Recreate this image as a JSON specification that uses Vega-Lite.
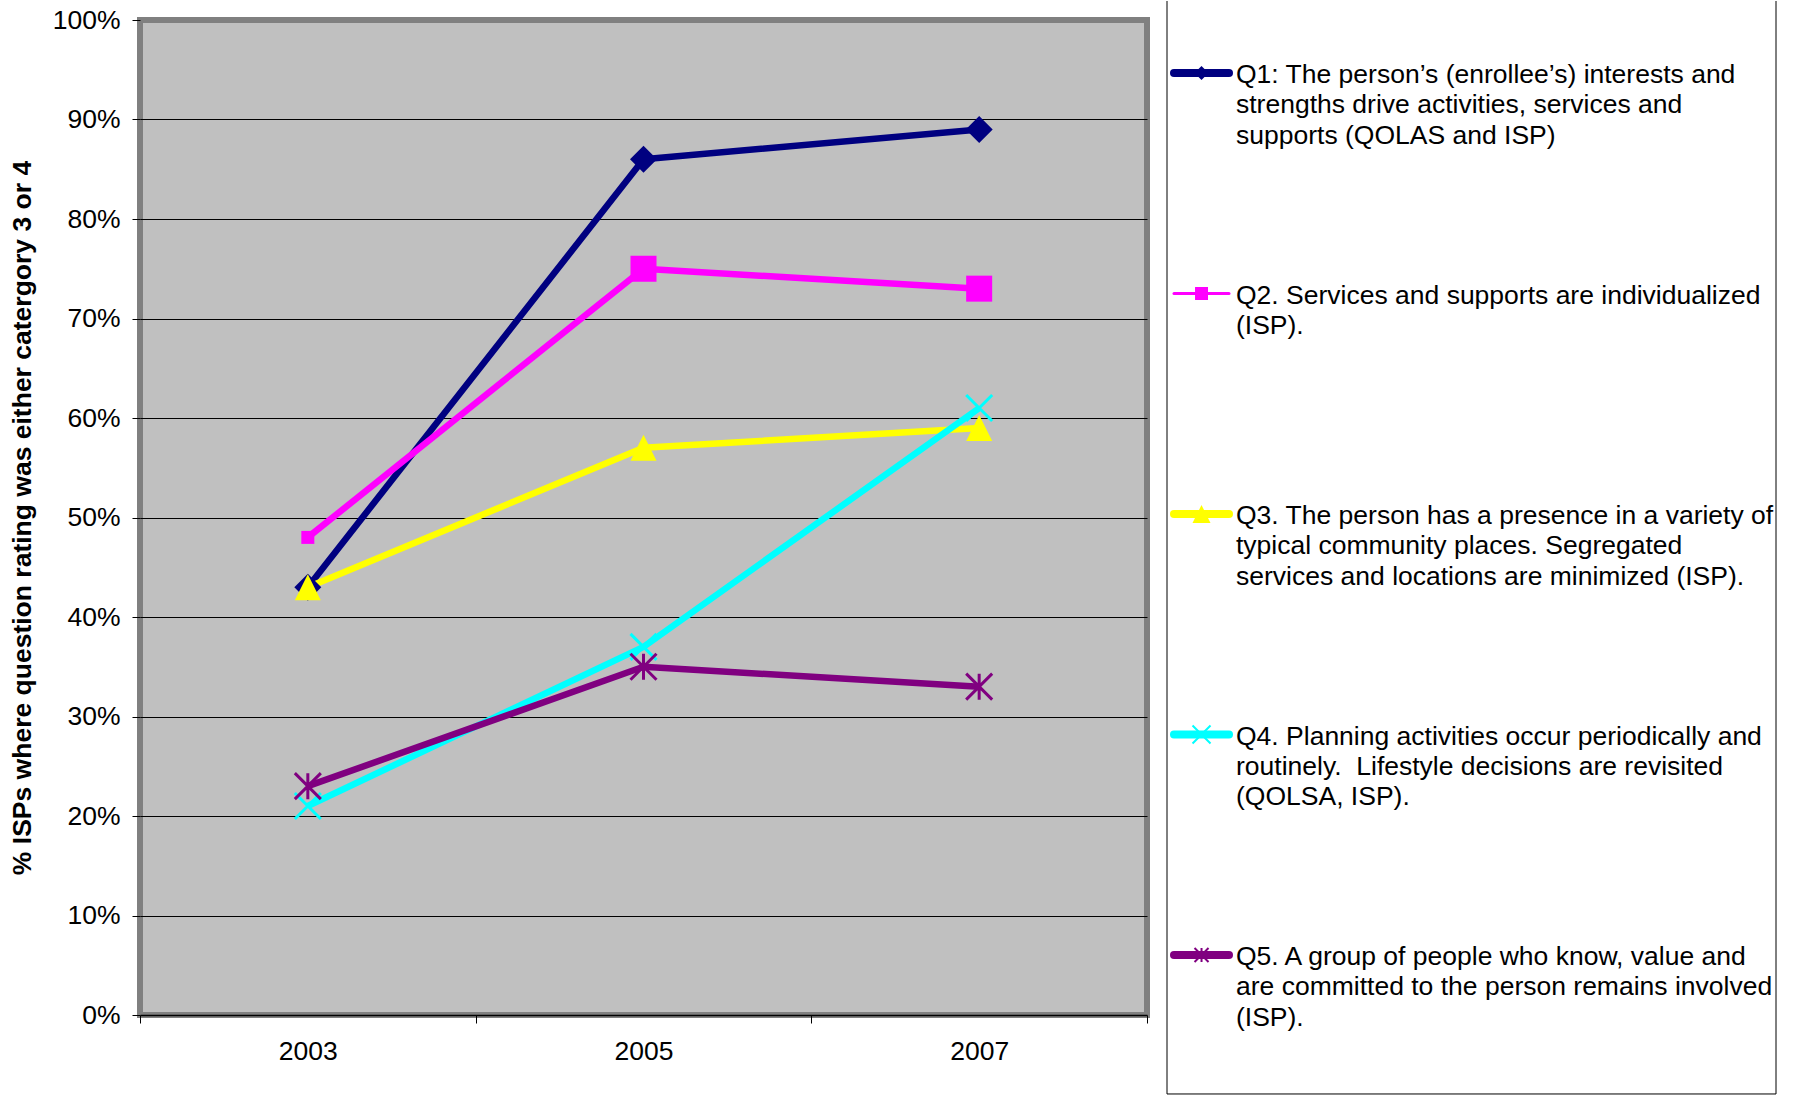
{
  "$schema": "https://vega.github.io/schema/vega-lite/v6.json",
  "background": "white",
  "padding": {"left": 6, "top": 0, "right": 0, "bottom": 0},
  "config": {
    "font": "Liberation Sans",
    "view": {"stroke": null},
    "concat": {"spacing": 15}
  },
  "datasets": {
    "scores": [
      {"year": "2003", "series": "Q1", "pct": 43},
      {"year": "2005", "series": "Q1", "pct": 86},
      {"year": "2007", "series": "Q1", "pct": 89},
      {"year": "2003", "series": "Q2", "pct": 48},
      {"year": "2005", "series": "Q2", "pct": 75},
      {"year": "2007", "series": "Q2", "pct": 73},
      {"year": "2003", "series": "Q3", "pct": 43},
      {"year": "2005", "series": "Q3", "pct": 57},
      {"year": "2007", "series": "Q3", "pct": 59},
      {"year": "2003", "series": "Q4", "pct": 21},
      {"year": "2005", "series": "Q4", "pct": 37},
      {"year": "2007", "series": "Q4", "pct": 61},
      {"year": "2003", "series": "Q5", "pct": 23},
      {"year": "2005", "series": "Q5", "pct": 35},
      {"year": "2007", "series": "Q5", "pct": 33}
    ],
    "keys": [
      {"series": "Q1", "slot": 1, "label": "Q1: The person’s (enrollee’s) interests and\nstrengths drive activities, services and\nsupports (QOLAS and ISP)"},
      {"series": "Q2", "slot": 2, "label": "Q2. Services and supports are individualized\n(ISP)."},
      {"series": "Q3", "slot": 3, "label": "Q3. The person has a presence in a variety of\ntypical community places. Segregated\nservices and locations are minimized (ISP)."},
      {"series": "Q4", "slot": 4, "label": "Q4. Planning activities occur periodically and\nroutinely.\u00a0 Lifestyle decisions are revisited\n(QOLSA, ISP)."},
      {"series": "Q5", "slot": 5, "label": "Q5. A group of people who know, value and\nare committed to the person remains involved\n(ISP)."}
    ],
    "frame": [{"edge": "box"}]
  },
  "resolve": {
    "scale": {"color": "independent", "shape": "independent", "size": "independent"}
  },
  "hconcat": [
    {
      "width": 1007,
      "height": 995,
      "view": {"fill": "#C0C0C0", "stroke": "#808080", "strokeWidth": 6},
      "data": {"name": "scores"},
      "encoding": {
        "x": {
          "field": "year",
          "type": "ordinal",
          "bandPosition": 0.5,
          "scale": {"type": "band", "paddingInner": 0, "paddingOuter": 0},
          "axis": {
            "title": null,
            "tickBand": "extent",
            "labelAngle": 0,
            "labelFontSize": 26.5,
            "labelColor": "black",
            "labelPadding": 15,
            "tickSize": 8,
            "tickColor": "black",
            "tickWidth": 1,
            "domainColor": "black",
            "domainWidth": 1.5,
            "grid": false,
            "zindex": 1
          }
        },
        "y": {
          "field": "pct",
          "type": "quantitative",
          "scale": {"domain": [0, 100], "nice": false},
          "axis": {
            "title": "% ISPs where question rating was either catergory 3 or 4",
            "titleFontSize": 26.5,
            "titleFontWeight": "bold",
            "titleColor": "black",
            "titlePadding": 16,
            "values": [0, 10, 20, 30, 40, 50, 60, 70, 80, 90, 100],
            "labelExpr": "datum.value + '%'",
            "labelFontSize": 26.5,
            "labelColor": "black",
            "labelPadding": 12,
            "tickSize": 8,
            "tickColor": "black",
            "domain": false,
            "grid": true,
            "gridColor": "black",
            "gridWidth": 1,
            "gridOpacity": {"condition": {"test": "datum.value == 0 || datum.value == 100", "value": 0}, "value": 1}
          }
        },
        "color": {
          "field": "series",
          "type": "nominal",
          "scale": {"domain": ["Q1", "Q2", "Q3", "Q4", "Q5"], "range": ["#000080", "#FF00FF", "#FFFF00", "#00FFFF", "#800080"]},
          "legend": null
        }
      },
      "layer": [
        {
          "mark": {"type": "line", "strokeJoin": "round", "strokeWidth": 6.5}
        },
        {
          "transform": [{"filter": "datum.series == 'Q1' || datum.series == 'Q2' || datum.series == 'Q3'"}],
          "mark": {"type": "point", "filled": true, "opacity": 1},
          "encoding": {
            "shape": {
              "field": "series",
              "type": "nominal",
              "scale": {"type": "ordinal", "domain": ["Q1", "Q2", "Q3", "Q4", "Q5"], "range": ["M0,-1L1,0L0,1L-1,0Z", "M-1,-1H1V1H-1Z", "M0,-1L1,1L-1,1Z", "M-1,-1L1,1M-1,1L1,-1", "M-1,-1L1,1M-1,1L1,-1M0,-1V1"]},
              "legend": null
            },
            "size": {
              "condition": [
                {"test": "datum.series == 'Q2' && datum.year == '2003'", "value": 169},
                {"test": "datum.series == 'Q1'", "value": 729}
              ],
              "value": 676
            }
          }
        },
        {
          "transform": [{"filter": "datum.series == 'Q4' || datum.series == 'Q5'"}],
          "mark": {"type": "point", "filled": false, "opacity": 1, "strokeWidth": 3, "size": 676},
          "encoding": {
            "shape": {
              "field": "series",
              "type": "nominal",
              "scale": {"type": "ordinal", "domain": ["Q1", "Q2", "Q3", "Q4", "Q5"], "range": ["M0,-1L1,0L0,1L-1,0Z", "M-1,-1H1V1H-1Z", "M0,-1L1,1L-1,1Z", "M-1,-1L1,1M-1,1L1,-1", "M-1,-1L1,1M-1,1L1,-1M0,-1V1"]},
              "legend": null
            }
          }
        }
      ]
    },
    {
      "width": 609,
      "height": 995,
      "layer": [
        {
          "data": {"name": "frame"},
          "mark": {"type": "rule", "color": "black", "strokeWidth": 1},
          "encoding": {
            "x": {"datum": 0, "type": "quantitative", "scale": {"domain": [0, 1], "nice": false, "zero": false}, "axis": null},
            "y": {"datum": 0.6734, "type": "quantitative", "scale": {"domain": [0.7596, 5.2721], "nice": false, "zero": false, "reverse": true}, "axis": null},
            "y2": {"datum": 5.6303}
          }
        },
        {
          "data": {"name": "frame"},
          "mark": {"type": "rule", "color": "black", "strokeWidth": 1},
          "encoding": {
            "x": {"datum": 1, "type": "quantitative"},
            "y": {"datum": 0.6734, "type": "quantitative"},
            "y2": {"datum": 5.6303}
          }
        },
        {
          "data": {"name": "frame"},
          "mark": {"type": "rule", "color": "black", "strokeWidth": 1},
          "encoding": {
            "x": {"datum": 0, "type": "quantitative"},
            "x2": {"datum": 1},
            "y": {"datum": 5.6303, "type": "quantitative"}
          }
        },
        {
          "data": {"name": "keys"},
          "mark": {"type": "rule", "strokeCap": "round"},
          "encoding": {
            "x": {"datum": 0.0115, "type": "quantitative"},
            "x2": {"datum": 0.1018},
            "y": {"field": "slot", "type": "quantitative"},
            "color": {
              "field": "series",
              "type": "nominal",
              "scale": {"domain": ["Q1", "Q2", "Q3", "Q4", "Q5"], "range": ["#000080", "#FF00FF", "#FFFF00", "#00FFFF", "#800080"]},
              "legend": null
            },
            "strokeWidth": {
              "condition": {"test": "datum.series == 'Q2'", "value": 3},
              "value": 8
            }
          }
        },
        {
          "data": {"name": "keys"},
          "transform": [{"filter": "datum.series == 'Q1' || datum.series == 'Q2' || datum.series == 'Q3'"}],
          "mark": {"type": "point", "filled": true, "opacity": 1},
          "encoding": {
            "x": {"datum": 0.0567, "type": "quantitative"},
            "y": {"field": "slot", "type": "quantitative"},
            "color": {"field": "series", "type": "nominal", "legend": null},
            "shape": {
              "field": "series",
              "type": "nominal",
              "scale": {"type": "ordinal", "domain": ["Q1", "Q2", "Q3", "Q4", "Q5"], "range": ["M0,-1L1,0L0,1L-1,0Z", "M-1,-1H1V1H-1Z", "M0,-1L1,1L-1,1Z", "M-1,-1L1,1M-1,1L1,-1", "M-1,-1L1,1M-1,1L1,-1M0,-1V1"]},
              "legend": null
            },
            "size": {
              "condition": [
                {"test": "datum.series == 'Q1'", "value": 196},
                {"test": "datum.series == 'Q2'", "value": 169}
              ],
              "value": 324
            }
          }
        },
        {
          "data": {"name": "keys"},
          "transform": [{"filter": "datum.series == 'Q4' || datum.series == 'Q5'"}],
          "mark": {"type": "point", "filled": false, "opacity": 1, "strokeWidth": 2},
          "encoding": {
            "x": {"datum": 0.0567, "type": "quantitative"},
            "y": {"field": "slot", "type": "quantitative"},
            "color": {"field": "series", "type": "nominal", "legend": null},
            "shape": {"field": "series", "type": "nominal", "legend": null},
            "size": {
              "condition": {"test": "datum.series == 'Q5'", "value": 196},
              "value": 324
            }
          }
        },
        {
          "data": {"name": "keys"},
          "mark": {"type": "text", "align": "left", "baseline": "top", "dy": -11, "fontSize": 26.5, "lineHeight": 30.4, "lineBreak": "\n", "color": "black"},
          "encoding": {
            "x": {"datum": 0.1133, "type": "quantitative"},
            "y": {"field": "slot", "type": "quantitative"},
            "text": {"field": "label"}
          }
        }
      ]
    }
  ]
}
